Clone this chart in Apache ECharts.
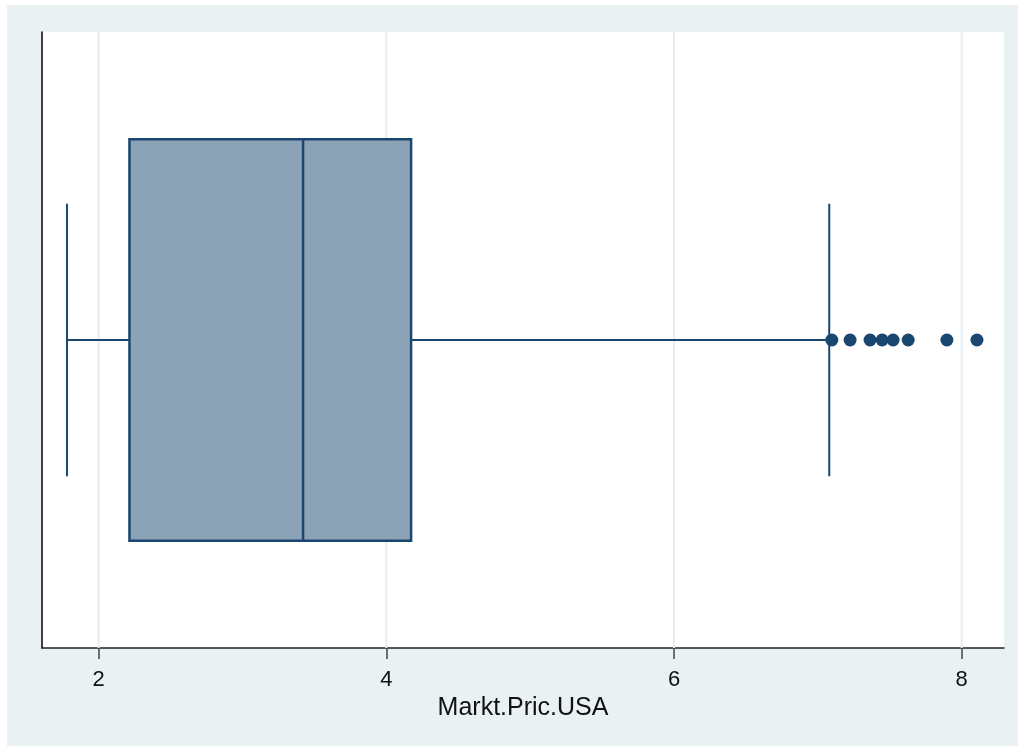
<!DOCTYPE html>
<html>
<head>
<meta charset="utf-8">
<script src="https://cdn.jsdelivr.net/npm/echarts@6/dist/echarts.min.js"></script>
<style>
  html, body { margin: 0; padding: 0; background: #fff; }
  #chart { position: absolute; left: 7px; top: 5px; width: 1011px; height: 741px; }
</style>
</head>
<body>
<div id="chart"></div>
<script>
// box summary: lower whisker, q1, median, q3, upper whisker
const categories = ["Markt.Pric.USA"];
const boxStats = [1.78, 2.214, 3.421, 4.172, 7.079];
const outliers = [7.097, 7.224, 7.363, 7.447, 7.523, 7.628, 7.897, 8.106];
const tickValues = [2, 4, 6, 8];

const navy = "#1a476f";
const fill = "#8ca3b7";

const chart = echarts.init(document.getElementById("chart"));

chart.setOption({
	backgroundColor: "#eaf1f3",
	animation: false,
	grid: {
		show: true,
		left: 35,
		top: 27,
		right: 14,
		bottom: 98,
		backgroundColor: "#fff",
		borderWidth: 0,
		containLabel: false,
	},
	xAxis: {
		type: "value",
		min: 1.606,
		max: 8.294,
		name: "Markt.Pric.USA",
		nameLocation: "middle",
		nameGap: 46,
		nameTextStyle: { fontFamily: "Liberation Sans", fontSize: 25, color: "#111" },
		axisLine: { show: true, onZero: false, lineStyle: { color: "#222", width: 1.5 } },
		axisTick: { show: true, length: 11, customValues: tickValues, lineStyle: { color: "#444", width: 1.5 } },
		axisLabel: {
			customValues: tickValues,
			margin: 21,
			fontFamily: "Liberation Sans",
			fontSize: 22,
			color: "#111",
		},
		splitLine: { show: false },
	},
	yAxis: {
		type: "category",
		data: categories,
		axisLine: { show: true, lineStyle: { color: "#000", width: 1.5 } },
		axisTick: { show: false },
		axisLabel: { show: false },
		splitLine: { show: false },
	},
	series: [
		{
			// vertical grid lines at the tick values, under the box
			type: "custom",
			data: tickValues.map((v) => [v]),
			silent: true,
			z: 1,
			renderItem: (params, api) => {
				const x = api.coord([api.value(0), 0])[0];
				const cs = params.coordSys;
				return {
					type: "line",
					shape: { x1: x, y1: cs.y, x2: x, y2: cs.y + cs.height },
					style: { stroke: "#e6eef1", lineWidth: 2 },
				};
			},
		},
		{
			type: "custom",
			data: [[0, ...boxStats]],
			z: 5,
			renderItem: (params, api) => {
				const yc = api.coord([0, api.value(0)])[1];
				const band = api.size([0, 1])[1];
				const half = band * 0.326;
				const cap = band * 0.221;
				const xLo = api.coord([api.value(1), 0])[0];
				const xQ1 = api.coord([api.value(2), 0])[0];
				const xMed = api.coord([api.value(3), 0])[0];
				const xQ3 = api.coord([api.value(4), 0])[0];
				const xHi = api.coord([api.value(5), 0])[0];
				const line = { stroke: navy, lineWidth: 2 };
				return {
					type: "group",
					children: [
						{ type: "line", shape: { x1: xLo, y1: yc, x2: xQ1, y2: yc }, style: line },
						{ type: "line", shape: { x1: xQ3, y1: yc, x2: xHi, y2: yc }, style: line },
						{ type: "line", shape: { x1: xLo, y1: yc - cap, x2: xLo, y2: yc + cap }, style: line },
						{ type: "line", shape: { x1: xHi, y1: yc - cap, x2: xHi, y2: yc + cap }, style: line },
						{
							type: "rect",
							shape: { x: xQ1, y: yc - half, width: xQ3 - xQ1, height: half * 2 },
							style: { fill: fill, stroke: navy, lineWidth: 2.5 },
						},
						{ type: "line", shape: { x1: xMed, y1: yc - half, x2: xMed, y2: yc + half }, style: { stroke: navy, lineWidth: 2.5 } },
					],
				};
			},
		},
		{
			type: "scatter",
			data: outliers.map((v) => [v, 0]),
			symbolSize: 13,
			itemStyle: { color: navy, opacity: 1 },
			z: 6,
		},
	],
});
</script>
</body>
</html>
